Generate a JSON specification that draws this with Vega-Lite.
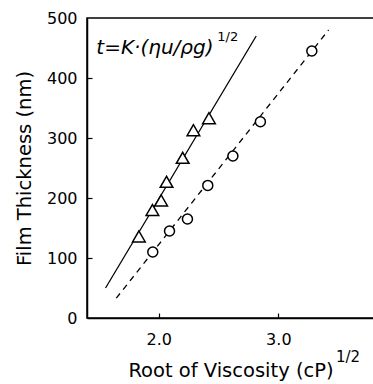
{
  "$schema": "https://vega.github.io/schema/vega-lite/v6.json",
  "width": 287,
  "height": 300,
  "autosize": {"type": "none"},
  "padding": {"left": 87, "top": 18, "right": 0, "bottom": 66},
  "config": {
    "font": "DejaVu Sans",
    "view": {"stroke": "black", "strokeWidth": 1.5},
    "axis": {
      "grid": false,
      "domainColor": "black",
      "domainWidth": 1.5,
      "tickColor": "black",
      "tickWidth": 1.2,
      "labelColor": "black",
      "labelFontSize": 16,
      "labelFont": "DejaVu Sans",
      "titleColor": "black",
      "titleFont": "DejaVu Sans",
      "titleFontSize": 19.5,
      "titleFontWeight": "normal"
    }
  },
  "datasets": {
    "triangles": [
      {"viscosity_root": 1.834, "thickness": 136},
      {"viscosity_root": 1.947, "thickness": 180},
      {"viscosity_root": 2.02, "thickness": 196},
      {"viscosity_root": 2.065, "thickness": 227},
      {"viscosity_root": 2.2, "thickness": 267},
      {"viscosity_root": 2.29, "thickness": 313},
      {"viscosity_root": 2.42, "thickness": 333}
    ],
    "circles": [
      {"viscosity_root": 1.95, "thickness": 110},
      {"viscosity_root": 2.09, "thickness": 145},
      {"viscosity_root": 2.24, "thickness": 165},
      {"viscosity_root": 2.41, "thickness": 221},
      {"viscosity_root": 2.62, "thickness": 270},
      {"viscosity_root": 2.85, "thickness": 327},
      {"viscosity_root": 3.28, "thickness": 445}
    ],
    "fit_solid": [
      {"viscosity_root": 1.555, "thickness": 50},
      {"viscosity_root": 2.815, "thickness": 470}
    ],
    "fit_dashed": [
      {"viscosity_root": 1.645, "thickness": 33},
      {"viscosity_root": 3.42, "thickness": 480}
    ],
    "formula": [
      {"viscosity_root": 1.478, "thickness": 440, "label": "t=K·(ηu/ρg)"}
    ],
    "formula_exp": [
      {"viscosity_root": 2.49, "thickness": 461, "label": "1/2"}
    ],
    "title_exp": [
      {"viscosity_root": 3.482, "thickness": -73, "label": "1/2"}
    ]
  },
  "resolve": {"axis": {"x": "independent", "y": "independent"}},
  "encoding": {
    "x": {
      "field": "viscosity_root",
      "type": "quantitative",
      "scale": {"domain": [1.4, 3.8], "nice": false, "zero": false},
      "axis": null
    },
    "y": {
      "field": "thickness",
      "type": "quantitative",
      "scale": {"domain": [0, 500], "nice": false},
      "axis": null
    }
  },
  "layer": [
    {
      "data": {"name": "fit_solid"},
      "mark": {"type": "line", "color": "black", "strokeWidth": 1.3},
      "encoding": {
        "x": {
          "field": "viscosity_root",
          "type": "quantitative",
          "axis": {"title": "Root of Viscosity (cP)", "values": [2, 3], "format": ".1f", "ticks": false, "tickSize": 0, "labelPadding": 13, "titlePadding": 14}
        },
        "y": {
          "field": "thickness",
          "type": "quantitative",
          "axis": {"title": "Film Thickness (nm)", "values": [0, 100, 200, 300, 400, 500], "ticks": false, "tickSize": 0, "labelPadding": 10, "titlePadding": 12}
        }
      }
    },
    {
      "data": {"name": "fit_dashed"},
      "mark": {"type": "line", "color": "black", "strokeWidth": 1.3, "strokeDash": [6, 5]},
      "encoding": {
        "x": {
          "field": "viscosity_root",
          "type": "quantitative",
          "axis": {"orient": "top", "offset": -300, "values": [2, 3], "labels": false, "domain": false, "title": null, "ticks": true, "tickSize": 5}
        },
        "y": {
          "field": "thickness",
          "type": "quantitative",
          "axis": {"orient": "left", "offset": -5, "values": [100, 200, 300, 400], "labels": false, "domain": false, "title": null, "ticks": true, "tickSize": 5}
        }
      }
    },
    {
      "data": {"name": "triangles"},
      "mark": {"type": "point", "shape": "triangle-up", "filled": true, "fill": "white", "stroke": "black", "strokeWidth": 1.5, "size": 160, "opacity": 1}
    },
    {
      "data": {"name": "circles"},
      "mark": {"type": "point", "shape": "circle", "filled": true, "fill": "white", "stroke": "black", "strokeWidth": 1.5, "size": 100, "opacity": 1}
    },
    {
      "data": {"name": "formula"},
      "mark": {"type": "text", "align": "left", "baseline": "alphabetic", "fontSize": 20, "fontStyle": "italic", "font": "DejaVu Sans", "color": "black"},
      "encoding": {"text": {"field": "label"}}
    },
    {
      "data": {"name": "formula_exp"},
      "mark": {"type": "text", "align": "left", "baseline": "alphabetic", "fontSize": 13, "font": "DejaVu Sans", "color": "black"},
      "encoding": {"text": {"field": "label"}}
    },
    {
      "data": {"name": "title_exp"},
      "mark": {"type": "text", "align": "left", "baseline": "alphabetic", "fontSize": 15, "font": "DejaVu Sans", "color": "black"},
      "encoding": {"text": {"field": "label"}}
    }
  ]
}
